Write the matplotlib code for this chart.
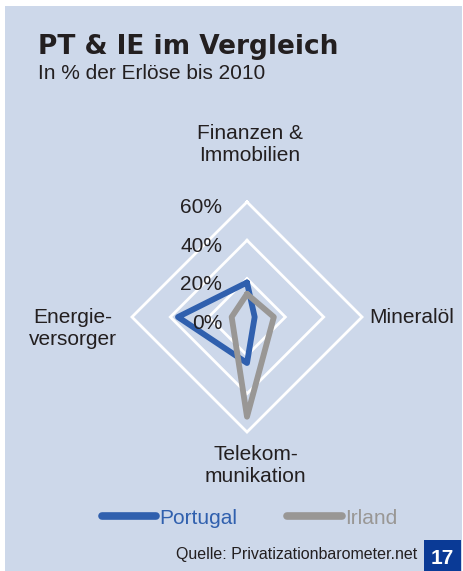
import numpy as np
import matplotlib.pyplot as plt
from matplotlib.patches import Rectangle
from matplotlib.lines import Line2D

# Daten (in % der Erlöse bis 2010)
kategorien = ["Finanzen &\nImmobilien", "Mineralöl", "Telekom-\nmunikation", "Energie-\nversorger"]
winkel_grad = [90, 0, 270, 180]  # oben, rechts, unten, links
portugal = [18, 4, 24, 36]
irland = [12, 14, 52, 8]
stufen = [0, 20, 40, 60]

hintergrund = "#cdd8ea"
blau = "#3060ae"
grau = "#999795"
textfarbe = "#231f20"

plt.rcParams["font.family"] = ["Liberation Sans", "DejaVu Sans"]

fig = plt.figure(figsize=(4.63, 5.71), dpi=100, facecolor="white")
W, H = 463, 571

# Hintergrundflaeche (unter den Achsen)
fig.patches.append(Rectangle((5 / W, 0), 457 / W, 565 / H, transform=fig.transFigure,
                             facecolor=hintergrund, edgecolor="none", zorder=-1))

# Radar als kartesische Achse
ax = fig.add_axes([117 / W, (H - 447) / H, 260 / W, 260 / H])
L = 67.8
ax.set_xlim(-L, L)
ax.set_ylim(-L, L)
ax.axis("off")

w = np.deg2rad(winkel_grad + [winkel_grad[0]])

# Gitter (Rauten)
for r in stufen[1:]:
    ax.plot(r * np.cos(w), r * np.sin(w), color="white", lw=2, zorder=1,
            solid_joinstyle="miter")

# Serien
def zeichne(werte, farbe):
    v = np.array(werte + [werte[0]], dtype=float)
    ax.plot(v * np.cos(w), v * np.sin(w), color=farbe, lw=4.2, zorder=3,
            solid_joinstyle="round", solid_capstyle="round")

zeichne(portugal, blau)
zeichne(irland, grau)

# Achsenbeschriftung (Prozent)
for r in stufen:
    ax.text(-13, r - 6, f"{r}%", ha="right", va="baseline", fontsize=15,
            color=textfarbe, zorder=4)

# Kategorien
pos = [(1.5, 90), (86, -0.5), (4.5, -77.5), (-91, -6)]
for name, (x, y) in zip(kategorien, pos):
    ax.text(x, y, name, ha="center", va="center", multialignment="center",
            fontsize=15, color=textfarbe, clip_on=False, linespacing=1.25)

# Titel
fig.text(38 / W, 1 - 54 / H, "PT & IE im Vergleich", fontsize=19, fontweight="bold",
         family="DejaVu Sans", color=textfarbe, va="baseline")
fig.text(38 / W, 1 - 79 / H, "In % der Erlöse bis 2010", fontsize=15,
         color=textfarbe, va="baseline")

# Legende
griffe = [Line2D([], [], color=blau, lw=5.5, solid_capstyle="round"),
          Line2D([], [], color=grau, lw=5.5, solid_capstyle="round")]
fig.legend(griffe, ["Portugal", "Irland"], ncol=2, frameon=False, fontsize=15,
           labelcolor="linecolor", handlelength=2.6, handletextpad=0.15,
           columnspacing=2.4, loc="center", bbox_to_anchor=(249.5 / W, 1 - 518 / H))

# Quelle und Seitenzahl
fig.text(417 / W, 1 - 555 / H, "Quelle: Privatizationbarometer.net", fontsize=11.5,
         color=textfarbe, ha="right", va="center")
fig.patches.append(Rectangle((424 / W, 0), 37 / W, 31 / H, transform=fig.transFigure,
                             facecolor="#0a3a96", edgecolor="none", zorder=2))
fig.text(442.5 / W, 1 - 558 / H, "17", fontsize=15, fontweight="bold", color="white",
         ha="center", va="center", zorder=3)

fig.savefig("out.png", dpi=100, facecolor=fig.get_facecolor())
